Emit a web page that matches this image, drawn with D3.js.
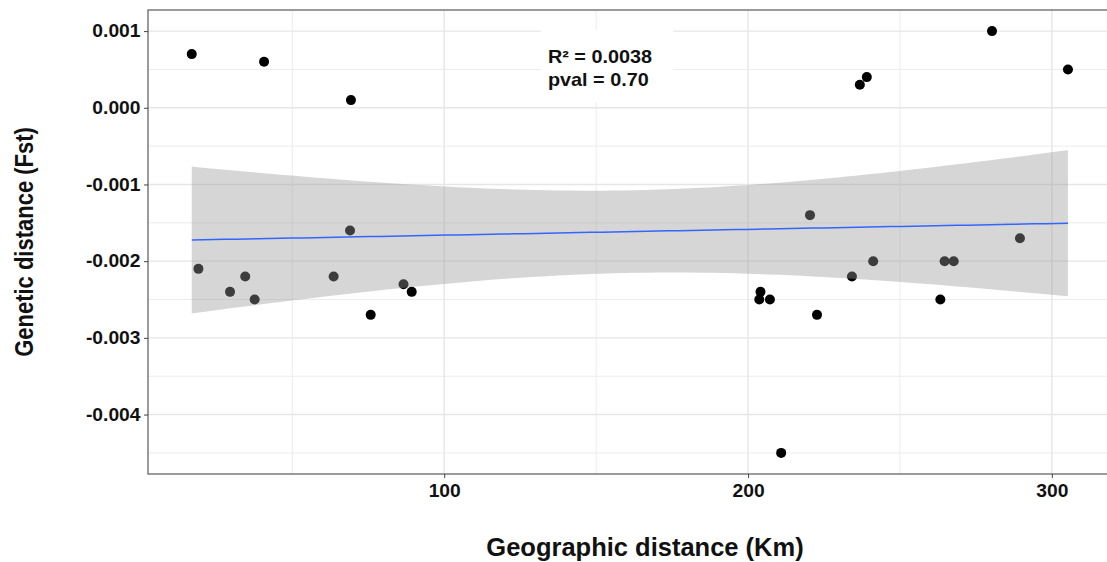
<!DOCTYPE html>
<html><head><meta charset="utf-8">
<script src="https://cdn.jsdelivr.net/npm/d3@7"></script>
<style>
body{margin:0;background:#fff;}
text{font-family:"Liberation Sans",Arial,sans-serif;}
</style></head>
<body><svg id="c" width="1107" height="562"></svg>
<script>
// Data
const geoKm = [16.9, 40.7, 69.3, 69.0, 19.1, 34.5, 29.5, 37.6, 63.6, 86.6, 89.3, 75.8,
  280.3, 305.3, 239.1, 236.8, 220.4, 289.5, 241.2, 264.7, 267.7, 234.2, 204.1, 203.7, 207.2, 263.3, 222.7, 210.9];
const fst = [0.0007, 0.0006, 0.0001, -0.0016, -0.0021, -0.0022, -0.0024, -0.0025, -0.0022, -0.0023, -0.0024, -0.0027,
  0.0010, 0.0005, 0.0004, 0.0003, -0.0014, -0.0017, -0.0020, -0.0020, -0.0020, -0.0022, -0.0024, -0.0025, -0.0025, -0.0025, -0.0027, -0.0045];
const xTicks = [100, 200, 300];
const xMinor = [50, 150, 250];
const yTicks = [0.001, 0.000, -0.001, -0.002, -0.003, -0.004];
const yMinor = [0.0005, -0.0005, -0.0015, -0.0025, -0.0035, -0.0045];
const statLines = ["R² = 0.0038", "pval = 0.70"];

const svg = d3.select("#c");
const L = 148, R = 1112, T = 10, B = 474;
const x = d3.scaleLinear().domain([2.5, 319.8]).range([L, R]);
const y = d3.scaleLinear().domain([-0.004775, 0.001275]).range([B, T]);

const g = svg.append("g");
// grid
g.selectAll(".ym").data(yMinor).join("line").attr("x1", L).attr("x2", R)
  .attr("y1", d => y(d)).attr("y2", d => y(d)).attr("stroke", "#ececec").attr("stroke-width", 1);
g.selectAll(".xm").data(xMinor).join("line").attr("y1", T).attr("y2", B)
  .attr("x1", d => x(d)).attr("x2", d => x(d)).attr("stroke", "#ececec").attr("stroke-width", 1);
g.selectAll(".yM").data(yTicks).join("line").attr("x1", L).attr("x2", R)
  .attr("y1", d => y(d)).attr("y2", d => y(d)).attr("stroke", "#e6e6e6").attr("stroke-width", 1.4);
g.selectAll(".xM").data(xTicks).join("line").attr("y1", T).attr("y2", B)
  .attr("x1", d => x(d)).attr("x2", d => x(d)).attr("stroke", "#e6e6e6").attr("stroke-width", 1.4);

// points
const pts = geoKm.map((v, i) => ({x: v, y: fst[i]}));
g.selectAll("circle").data(pts).join("circle")
  .attr("cx", d => x(d.x)).attr("cy", d => y(d.y)).attr("r", 5).attr("fill", "#000");

// linear fit with 95% CI
const n = pts.length;
const mx = d3.mean(pts, d => d.x), my = d3.mean(pts, d => d.y);
const sxx = d3.sum(pts, d => (d.x - mx) ** 2);
const sxy = d3.sum(pts, d => (d.x - mx) * (d.y - my));
const b1 = sxy / sxx, b0 = my - b1 * mx;
const sse = d3.sum(pts, d => (d.y - b0 - b1 * d.x) ** 2);
const s = Math.sqrt(sse / (n - 2));
const tq = 2.0555;
const [xmin, xmax] = d3.extent(geoKm);
const grid = d3.range(80).map(i => xmin + (xmax - xmin) * i / 79);
const fit = grid.map(xv => {
  const f = b0 + b1 * xv;
  const se = s * Math.sqrt(1 / n + (xv - mx) ** 2 / sxx);
  return {x: xv, f, lo: f - tq * se, hi: f + tq * se};
});
g.append("path").datum(fit)
  .attr("d", d3.area().x(d => x(d.x)).y0(d => y(d.lo)).y1(d => y(d.hi)))
  .attr("fill", "#999999").attr("fill-opacity", 0.4);
g.append("path").datum(fit)
  .attr("d", d3.line().x(d => x(d.x)).y(d => y(d.f)))
  .attr("fill", "none").attr("stroke", "#3366FF").attr("stroke-width", 1.5);

// label box
g.append("rect").attr("x", 541).attr("y", 30).attr("width", 132).attr("height", 72).attr("fill", "#fff");
g.selectAll(".stat").data(statLines).join("text")
  .attr("transform", (d, i) => `translate(548,${63 + i * 23}) scale(1.1,1)`)
  .attr("font-size", 18).attr("font-weight", "bold").attr("fill", "#111").text(d => d);

// panel border
svg.append("rect").attr("x", L).attr("y", T).attr("width", R - L).attr("height", B - T)
  .attr("fill", "none").attr("stroke", "#666").attr("stroke-width", 1.3);

// axes
const yAxis = d3.axisLeft(y).tickValues(yTicks).tickFormat(d3.format(".3f")).tickSize(4).tickPadding(3);
const ya = svg.append("g").attr("transform", `translate(${L},0)`).call(yAxis);
const xAxis = d3.axisBottom(x).tickValues(xTicks).tickFormat(d3.format("d")).tickSize(4).tickPadding(6);
const xa = svg.append("g").attr("transform", `translate(0,${B})`).call(xAxis);
[ya, xa].forEach(a => {
  a.select(".domain").remove();
  a.selectAll(".tick line").attr("stroke", "#444");
  a.selectAll(".tick text").attr("font-size", 18).attr("font-weight", "bold").attr("fill", "#111")
    .attr("transform", "scale(1.07,1)")
    .attr("font-family", "Liberation Sans, Arial, sans-serif").text(function(){ return d3.select(this).text().replace("−", "-"); });
});

svg.append("text").attr("x", 645).attr("y", 556).attr("text-anchor", "middle")
  .attr("font-size", 25.5).attr("font-weight", "bold").attr("fill", "#111").text("Geographic distance (Km)");
svg.append("text").attr("transform", `translate(33,${(T + B) / 2 + 0}) scale(1.14,1) rotate(-90)`).attr("text-anchor", "middle")
  .attr("font-size", 22).attr("font-weight", "bold").attr("fill", "#111").text("Genetic distance (Fst)");
</script></body></html>
